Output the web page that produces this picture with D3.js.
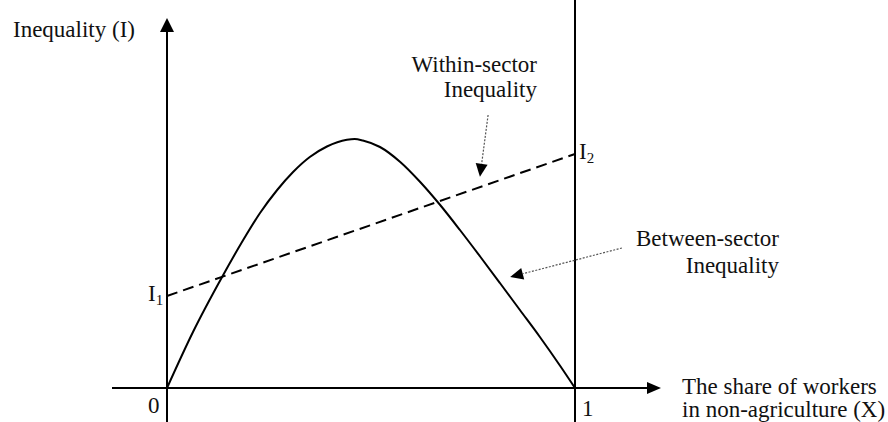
<!DOCTYPE html>
<meta charset="utf-8">
<style>
body { margin: 0; background: #fff; }
svg text {
  font-family: "Liberation Serif", "Times New Roman", Times, "DejaVu Serif", serif;
  font-size: 23px;
  fill: #111;
}
.axis, .curve, .within { fill: none; stroke: #000; stroke-width: 2; }
.within { stroke-dasharray: 11,6; }
.pointer { fill: none; stroke: #555; stroke-width: 1.2; stroke-dasharray: 2,1.5; }
</style>
<svg width="888" height="422"></svg>
<script src="https://cdn.jsdelivr.net/npm/d3@7"></script>
<script>

// share of workers in non-agriculture (X) and between-sector inequality
var shareX = [0, 0.064, 0.135, 0.186, 0.228, 0.27, 0.309, 0.35, 0.392, 0.441, 0.46,
              0.48, 0.522, 0.571, 0.62, 0.669, 0.718, 0.767, 0.816, 0.865, 0.914, 0.963, 1];
var betweenI = [0, 0.225, 0.444, 0.59, 0.70, 0.792, 0.864, 0.924, 0.966, 0.993, 0.996,
                0.99, 0.964, 0.905, 0.825, 0.733, 0.632, 0.527, 0.42, 0.312, 0.204, 0.09, 0];

// within-sector inequality goes from I1 (X=0) to I2 (X=1)
var withinX = [0, 1];
var withinI = [0.368, 0.936];

var svg = d3.select("svg");

var x = d3.scaleLinear().domain([0, 1]).range([167, 575]),
    y = d3.scaleLinear().domain([0, 1]).range([388, 138]);

// axes
svg.append("line").attr("class", "axis")
    .attr("x1", x(0)).attr("x2", x(0)).attr("y1", 422).attr("y2", 30);
svg.append("line").attr("class", "axis")
    .attr("x1", 112).attr("x2", 648).attr("y1", y(0)).attr("y2", y(0));
svg.append("line").attr("class", "axis")
    .attr("x1", x(1)).attr("x2", x(1)).attr("y1", 0).attr("y2", 422);

// arrow heads on axes
svg.append("path")
    .attr("d", "M" + x(0) + ",18 l-7,14 l14,0 z");
svg.append("path")
    .attr("d", "M661," + y(0) + " l-14,-6 l0,12 z");

var line = d3.line()
    .x(function(d) { return x(d[0]); })
    .y(function(d) { return y(d[1]); });

svg.append("path").attr("class", "curve")
    .attr("d", line.curve(d3.curveMonotoneX)(d3.zip(shareX, betweenI)));

svg.append("path").attr("class", "within")
    .attr("d", line.curve(d3.curveLinear)(d3.zip(withinX, withinI)));

// pointer arrows: [from, to] in data units
var pointers = [
  [[0.787, 1.092], [0.767, 0.845]],
  [[1.115, 0.56], [0.841, 0.444]]
];

pointers.forEach(function(p) {
  var x0 = x(p[0][0]), y0 = y(p[0][1]), x1 = x(p[1][0]), y1 = y(p[1][1]);
  var a = Math.atan2(y1 - y0, x1 - x0);
  var len = 13, hw = 6;
  var bx = x1 - len * Math.cos(a), by = y1 - len * Math.sin(a);
  svg.append("line").attr("class", "pointer")
      .attr("x1", x0).attr("y1", y0).attr("x2", bx).attr("y2", by);
  svg.append("path")
      .attr("d", "M" + x1 + "," + y1 +
        "L" + (bx + hw * Math.sin(a)) + "," + (by - hw * Math.cos(a)) +
        "L" + (bx - hw * Math.sin(a)) + "," + (by + hw * Math.cos(a)) + "Z");
});

// labels
svg.append("text").attr("x", 13).attr("y", 37).text("Inequality (I)");

svg.append("text").attr("x", 148).attr("y", 413).text("0");
svg.append("text").attr("x", 582).attr("y", 416).text("1");

var i1 = svg.append("text").attr("x", 148).attr("y", y(withinI[0]) + 5).text("I");
i1.append("tspan").attr("dy", 4).style("font-size", "15px").text("1");
var i2 = svg.append("text").attr("x", 579).attr("y", y(withinI[1]) + 5).text("I");
i2.append("tspan").attr("dy", 4).style("font-size", "15px").text("2");

svg.append("text").attr("x", 537).attr("y", 72).attr("text-anchor", "end").text("Within-sector");
svg.append("text").attr("x", 537).attr("y", 97).attr("text-anchor", "end").text("Inequality");

svg.append("text").attr("x", 779).attr("y", 246).attr("text-anchor", "end").text("Between-sector");
svg.append("text").attr("x", 779).attr("y", 273).attr("text-anchor", "end").text("Inequality");

svg.append("text").attr("x", 682).attr("y", 394).text("The share of workers");
svg.append("text").attr("x", 682).attr("y", 417).text("in non-agriculture (X)");

</script>
